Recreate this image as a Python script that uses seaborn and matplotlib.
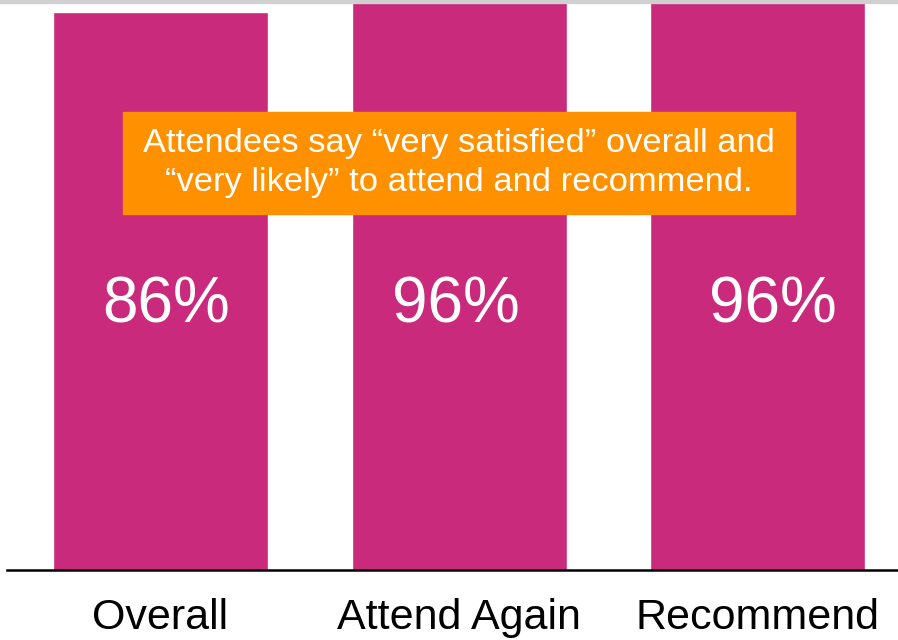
import matplotlib.pyplot as plt
import pandas as pd
import seaborn as sns
from matplotlib.patches import Rectangle

categories = ['Overall', 'Attend Again', 'Recommend']
scores = [86, 96, 96]
labels = ['86%', '96%', '96%']
note = 'Attendees say \u201cvery satisfied\u201d overall and\n\u201cvery likely\u201d to attend and recommend.'

df = pd.DataFrame({'category': categories, 'score': scores})

sns.set_style('white')
plt.rcParams['font.family'] = ['Liberation Sans', 'DejaVu Sans']

fig = plt.figure(figsize=(8.98, 6.4), dpi=100)
ax = fig.add_axes([7 / 898, 70 / 640, 891 / 898, 566 / 640])

sns.barplot(x='category', y='score', data=df, color='#C92A7B',
            width=0.72, saturation=1, ax=ax)

ax.set_ylim(0, 87.2)
ax.set_xlim(-0.514, 2.47)
ax.set_xlabel('')
ax.set_ylabel('')
ax.set_yticks([])
ax.tick_params(axis='x', length=0, labelsize=31, pad=20, labelcolor='black')
for side in ['top', 'right', 'left']:
    ax.spines[side].set_visible(False)
ax.spines['bottom'].set_color('black')
ax.spines['bottom'].set_linewidth(1.8)

# percentage labels inside the bars
offsets = [0.02, -0.01, 0.05]
for i, lab in enumerate(labels):
    ax.text(i + offsets[i], 0.468, lab, transform=ax.get_xaxis_transform(),
            ha='center', va='center', color='white', fontsize=46)

# orange call-out box
fig.patches.append(Rectangle((123 / 898, 1 - 214 / 640), 672 / 898, 102 / 640,
                             transform=fig.transFigure, color='#FF9100',
                             zorder=5))
fig.text(459 / 898, 1 - 163 / 640, note, ha='center', va='center',
         color='white', fontsize=24.8, linespacing=1.32, zorder=6)

# thin grey strip along the top edge
fig.patches.append(Rectangle((0, 1 - 3 / 640), 1, 3 / 640,
                             transform=fig.transFigure, color='#D0D0D0',
                             zorder=0))

fig.savefig('out.png', dpi=100)
